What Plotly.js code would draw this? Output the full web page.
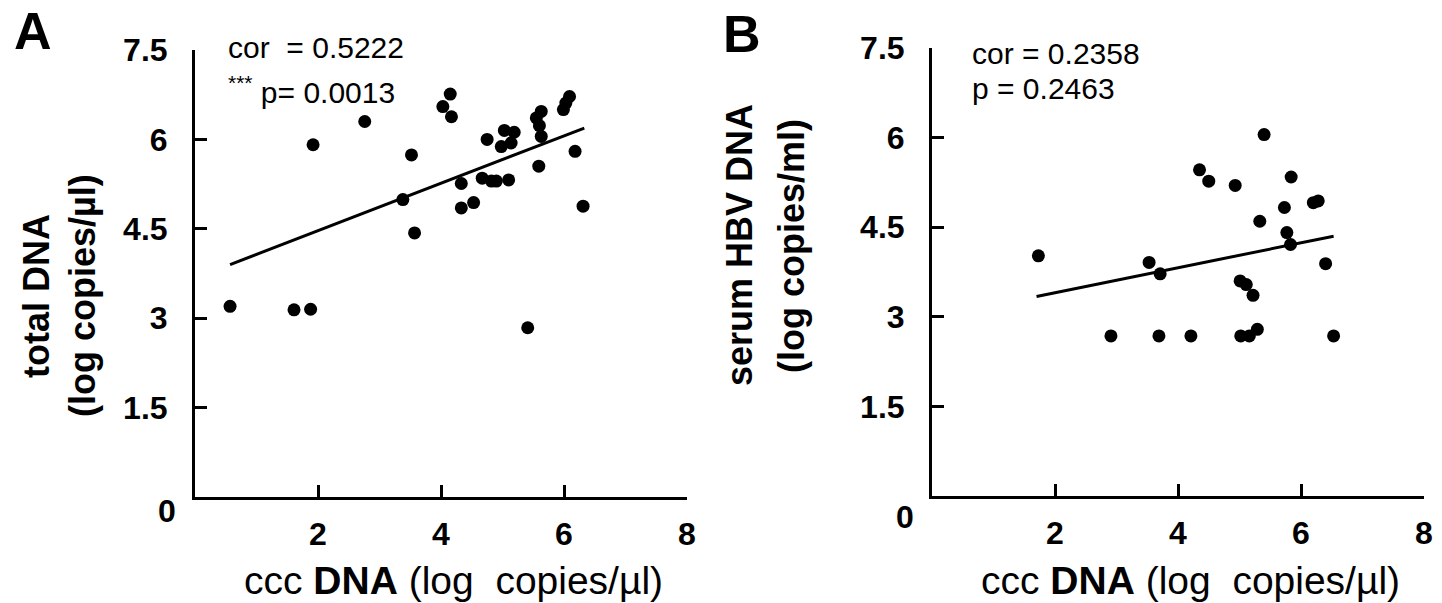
<!DOCTYPE html>
<html>
<head>
<meta charset="utf-8">
<script src="https://cdn.plot.ly/plotly-3.0.1.min.js"></script>
<style>html,body{margin:0;padding:0;background:#fff;}#chart{width:1442px;height:603px;}</style>
</head>
<body>
<div id="chart"></div>
<script>
// Panel A: cccDNA vs total DNA
const cccA   = [0.57,1.61,1.88,1.92,2.76,3.38,3.52,3.57,4.03,4.15,4.17,4.33,4.33,4.53,4.67,4.75,4.82,4.90,4.98,5.03,5.10,5.14,5.19,5.41,5.55,5.63,5.59,5.63,5.60,5.99,6.03,6.09,6.18,6.31];
const totalA = [3.20,3.14,3.15,5.91,6.30,4.99,5.74,4.43,6.55,6.76,6.38,5.26,4.85,4.94,5.35,6.00,5.30,5.30,5.88,6.15,5.32,5.94,6.12,2.84,6.36,6.47,5.55,6.05,6.23,6.50,6.61,6.72,5.80,4.88];
const fitAx = [0.57, 6.33];
const fitAy = [3.90, 6.19];

// Panel B: cccDNA vs serum HBV DNA
const cccB   = [1.73,2.91,3.53,3.71,3.69,4.21,4.35,4.50,4.93,5.01,5.11,5.22,5.02,5.16,5.29,5.33,5.40,5.73,5.77,5.83,5.84,6.20,6.28,6.40,6.53];
const serumB = [4.02,2.68,3.91,3.72,2.68,2.68,5.46,5.27,5.20,3.60,3.54,3.36,2.68,2.68,2.79,4.60,6.05,4.83,4.41,4.21,5.34,4.91,4.94,3.89,2.68];
const fitBx = [1.70, 6.53];
const fitBy = [3.34, 4.35];

const yTicks = [1.5, 3, 4.5, 6, 7.5];
const yTickText = ['1.5', '3', '4.5', '6', '7.5'];
const xTicks = [2, 4, 6, 8];
const xTickText = ['2', '4', '6', '8'];

const W = 1442, H = 603;
const px = X => X / W;
const py = Y => 1 - Y / H;
const FONT = 'Liberation Sans, Arial, sans-serif';

const marker = {color: '#000', size: 13};
const fitLine = {color: '#000', width: 3};

const traces = [
  {x: cccA, y: totalA, type: 'scatter', mode: 'markers', marker: marker, xaxis: 'x', yaxis: 'y'},
  {x: fitAx, y: fitAy, type: 'scatter', mode: 'lines', line: fitLine, xaxis: 'x', yaxis: 'y'},
  {x: cccB, y: serumB, type: 'scatter', mode: 'markers', marker: marker, xaxis: 'x2', yaxis: 'y2'},
  {x: fitBx, y: fitBy, type: 'scatter', mode: 'lines', line: fitLine, xaxis: 'x2', yaxis: 'y2'}
];

const tickFont = {family: FONT, size: 32, color: '#000', weight: 'bold'};
function xAx(domain, anchor) {
  return {domain: domain, anchor: anchor, range: [0, 8], showgrid: false, zeroline: false,
    showline: true, linecolor: '#000', linewidth: 3, ticks: 'inside', ticklen: 12, tickwidth: 3, tickcolor: '#000',
    tickvals: xTicks, ticktext: xTickText, tickfont: tickFont, ticklabelstandoff: 7, fixedrange: true};
}
function yAx(domain, anchor) {
  return {domain: domain, anchor: anchor, range: [0, 7.5], showgrid: false, zeroline: false,
    showline: true, linecolor: '#000', linewidth: 3, ticks: 'inside', ticklen: 12, tickwidth: 3, tickcolor: '#000',
    tickvals: yTicks, ticktext: yTickText, tickfont: tickFont, ticklabelstandoff: 18, fixedrange: true};
}

const txt = (X, Y, text, size, opts) => Object.assign({xref: 'paper', yref: 'paper', x: px(X), y: py(Y),
  xanchor: 'center', yanchor: 'middle',
  text: text, showarrow: false, font: {family: FONT, size: size, color: '#000'}}, opts || {});

const annotations = [
  txt(33, 0, '<b>A</b>', 52, {yanchor: 'top'}),
  txt(742, 3, '<b>B</b>', 52, {yanchor: 'top'}),
  txt(167, 511, '<b>0</b>', 32),
  txt(905, 517, '<b>0</b>', 32),
  txt(226, 48, 'cor  = 0.5222', 30, {xanchor: 'left'}),
  txt(226, 90, '<sup>***</sup> p= 0.0013', 30, {xanchor: 'left'}),
  txt(970, 53, 'cor = 0.2358', 30, {xanchor: 'left'}),
  txt(970, 88, 'p = 0.2463', 30, {xanchor: 'left'}),
  txt(36, 296, '<b>total DNA</b>', 36, {textangle: -90}),
  txt(82, 296, '<b>(log copies/µl)</b>', 36, {textangle: -90}),
  txt(739, 245, '<b>serum HBV DNA</b>', 36, {textangle: -90}),
  txt(792, 246, '<b>(log copies/ml)</b>', 36, {textangle: -90}),
  txt(453, 580, 'ccc <b>DNA</b> (log  copies/µl)', 39),
  txt(1190, 580, 'ccc <b>DNA</b> (log  copies/µl)', 39)
];

const layout = {
  width: W, height: H, margin: {l: 0, r: 0, t: 0, b: 0},
  paper_bgcolor: '#fff', plot_bgcolor: '#fff', showlegend: false,
  font: {family: FONT, color: '#000'},
  xaxis: xAx([px(195), px(687)], 'y'),
  yaxis: yAx([py(497), py(50)], 'x'),
  xaxis2: xAx([px(932), px(1424)], 'y2'),
  yaxis2: yAx([py(496), py(48)], 'x2'),
  annotations: annotations
};

Plotly.newPlot('chart', traces, layout, {displayModeBar: false, staticPlot: true});
</script>
</body>
</html>
